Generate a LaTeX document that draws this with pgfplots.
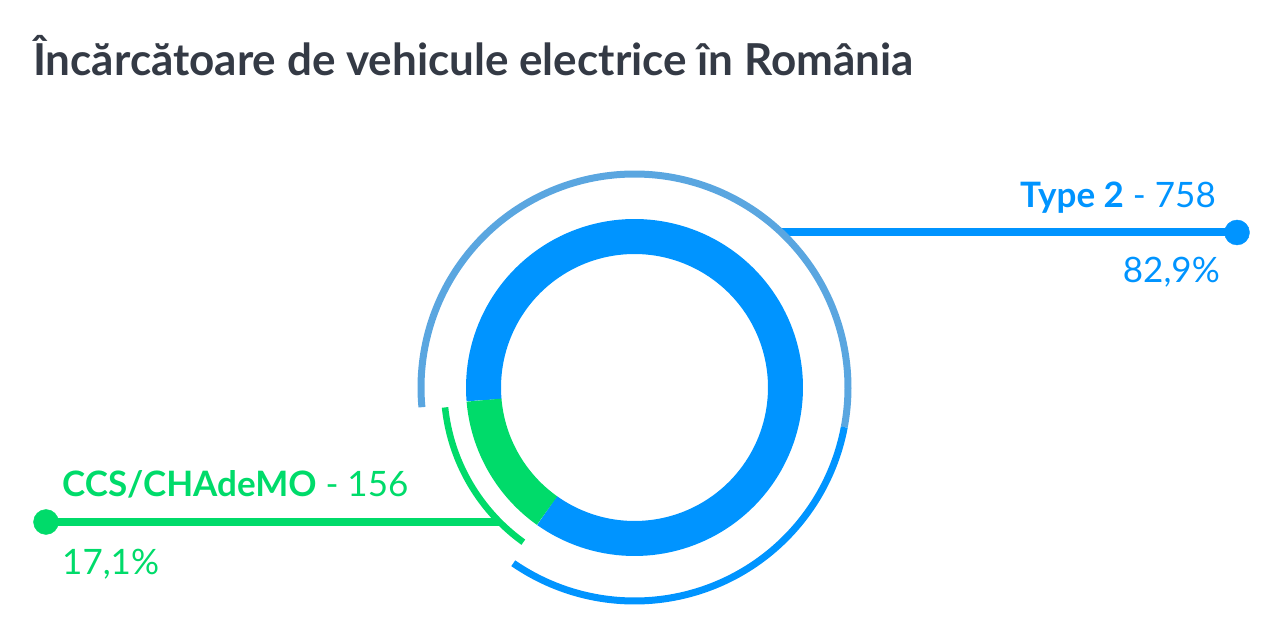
\documentclass[border=0pt]{standalone}
\usepackage{pgfplots}
\pgfplotsset{compat=1.18}
\usepackage{pgfplotstable}
\usepackage{fontspec}
\setmainfont{Lato}
\definecolor{cblue}{RGB}{0,148,255}
\definecolor{clight}{RGB}{90,166,224}
\definecolor{cgreen}{RGB}{0,219,106}
\definecolor{ctitle}{RGB}{52,58,69}

% slices: value, share, and the angles (degrees) at which the chart draws them
\pgfplotstableread{
name   value percent start end
Type2  758   82.9    234.6 544.8
CCS    156   17.1    184.8 234.6
}\slices
% outer arcs: radius, start, end
\pgfplotstableread{
arc    r     start end
light  213.5 349.3 545.3
bright 213.5 235.4 349.3
green  190.5 186.0 234.3
}\arcs

\pgfplotstablegetelem{0}{start}\of\slices \let\tAs\pgfplotsretval
\pgfplotstablegetelem{0}{end}\of\slices \let\tAe\pgfplotsretval
\pgfplotstablegetelem{1}{start}\of\slices \let\tBs\pgfplotsretval
\pgfplotstablegetelem{1}{end}\of\slices \let\tBe\pgfplotsretval
\pgfplotstablegetelem{0}{start}\of\arcs \let\aLs\pgfplotsretval
\pgfplotstablegetelem{0}{end}\of\arcs \let\aLe\pgfplotsretval
\pgfplotstablegetelem{1}{start}\of\arcs \let\aBs\pgfplotsretval
\pgfplotstablegetelem{1}{end}\of\arcs \let\aBe\pgfplotsretval
\pgfplotstablegetelem{2}{start}\of\arcs \let\aGs\pgfplotsretval
\pgfplotstablegetelem{2}{end}\of\arcs \let\aGe\pgfplotsretval

\def\cx{634.5}
\def\cy{252.5}

\begin{document}
\begin{tikzpicture}
\useasboundingbox (0,0) rectangle (1280pt,640pt);
\begin{axis}[
  width=1280pt, height=640pt, scale only axis,
  xmin=0, xmax=1280, ymin=0, ymax=640,
  hide axis, clip=false,
  samples=150, no markers,
]
% donut ring
\addplot[cblue, line width=35pt, domain=\tAs:\tAe, variable=\t] ({\cx+151*cos(\t)}, {\cy+151*sin(\t)});
\addplot[cgreen, line width=35pt, domain=\tBs:\tBe, variable=\t] ({\cx+151*cos(\t)}, {\cy+151*sin(\t)});
% connector lines
\addplot[cblue, line width=8pt] coordinates {(780.6,407.5) (1237,407.5)};
\addplot[cgreen, line width=8pt] coordinates {(46,118) (500,118)};
% outer arcs
\addplot[clight, line width=7pt, domain=\aLs:\aLe, variable=\t] ({\cx+213.5*cos(\t)}, {\cy+213.5*sin(\t)});
\addplot[cblue, line width=7pt, domain=\aBs:\aBe, variable=\t] ({\cx+213.5*cos(\t)}, {\cy+213.5*sin(\t)});
\addplot[cgreen, line width=6.5pt, domain=\aGs:\aGe, variable=\t] ({\cx+190.5*cos(\t)}, {\cy+190.5*sin(\t)});
% end dots
\addplot[only marks, mark=*, mark size=12.5pt, color=cblue, mark options={draw=none, fill=cblue}] coordinates {(1237,407.5)};
\addplot[only marks, mark=*, mark size=12.5pt, color=cgreen, mark options={draw=none, fill=cgreen}] coordinates {(46,118)};
% texts
\node[anchor=base west, text=ctitle, font=\fontsize{44}{52}\selectfont\bfseries, inner sep=0pt] at (axis cs:33,564) {Încărcătoare de vehicule electrice în România};
\node[anchor=base east, text=cblue, font=\fontsize{35}{42}\selectfont, inner sep=0pt] at (axis cs:1216,432) {\textbf{Type 2} - 758};
\node[anchor=base east, text=cblue, font=\fontsize{35}{42}\selectfont, inner sep=0pt] at (axis cs:1220,357) {82,9\%};
\node[anchor=base west, text=cgreen, font=\fontsize{35}{42}\selectfont, inner sep=0pt] at (axis cs:62,143) {\textbf{CCS/CHAdeMO} - 156};
\node[anchor=base west, text=cgreen, font=\fontsize{35}{42}\selectfont, inner sep=0pt] at (axis cs:62,65) {17,1\%};
\end{axis}
\end{tikzpicture}
\end{document}
